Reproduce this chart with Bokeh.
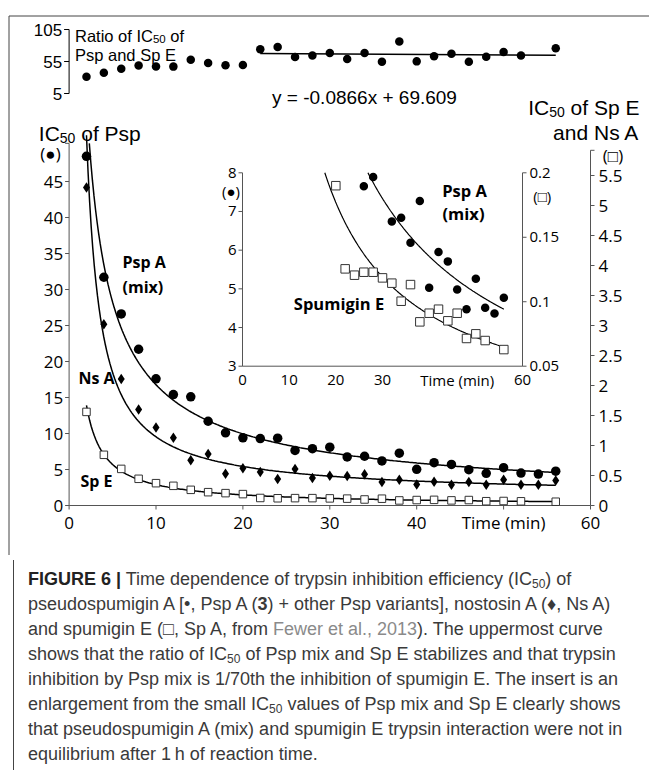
import numpy as np
from bokeh.plotting import figure
from bokeh.models import Range1d, Div
from bokeh.layouts import column
from bokeh.core.properties import value
from bokeh.embed import file_html
from bokeh.resources import INLINE

# ---------------- data ----------------
time_psp = [2, 4, 6, 8, 10, 12, 14, 16, 18, 20, 22, 24, 26, 28, 30, 32, 34, 36, 38, 40, 42, 44, 46, 48, 50, 52, 54, 56]
ic50_psp = [48.5, 31.7, 26.6, 21.7, 17.6, 15.4, 15.1, 11.7, 10.1, 9.4, 9.3, 9.35, 7.65, 7.89, 8.1, 6.74, 6.84, 6.19,
            7.27, 5.03, 5.95, 5.71, 4.98, 4.47, 5.26, 4.51, 4.36, 4.77]
time_nsa = [2, 4, 6, 8, 10, 12, 14, 16, 18, 20, 22, 24, 26, 28, 30, 32, 34, 36, 38, 40, 42, 44, 46, 48, 50, 52, 54, 56]
ic50_nsa = [5.3, 3.02, 2.11, 1.6, 1.3, 1.13, 0.755, 0.86, 0.53, 0.62, 0.56, 0.44, 0.61, 0.46, 0.495, 0.49, 0.52,
            0.39, 0.43, 0.35, 0.395, 0.345, 0.39, 0.345, 0.43, 0.345, 0.345, 0.415]
time_spe = [2, 4, 6, 8, 10, 12, 14, 16, 18, 20, 22, 24, 26, 28, 30, 32, 34, 36, 38, 40, 42, 44, 46, 48, 50, 52, 56]
ic50_spe = [1.56, 0.845, 0.61, 0.445, 0.372, 0.328, 0.261, 0.222, 0.206, 0.19, 0.1255, 0.1206, 0.1229, 0.1229,
            0.1185, 0.1144, 0.1004, 0.1133, 0.0844, 0.0911, 0.0942, 0.0852, 0.0911, 0.0715, 0.0751, 0.0699, 0.0629]
time_ratio = [2, 4, 6, 8, 10, 12, 14, 16, 18, 20, 22, 24, 26, 28, 30, 32, 34, 36, 38, 40, 42, 44, 46, 48, 50, 52, 56]
ratio_psp_spe = [31.1, 37.5, 43.6, 48.8, 47.3, 47.0, 57.9, 52.7, 49.0, 49.5, 74.1, 77.5, 62.2, 64.2, 68.4, 58.9,
                 68.1, 54.6, 86.1, 55.2, 63.2, 67.0, 54.7, 62.5, 70.0, 64.5, 75.8]
ratio_fit_from = 22
inset_fit_from = 20

main_x_ticks = [0, 10, 20, 30, 40, 50, 60]
main_x_labels = ["0", "10", "20", "30", "40", "Time (min)", "60"]
main_left_ticks = [0, 5, 10, 15, 20, 25, 30, 35, 40, 45]
main_right_ticks = [0, 0.5, 1, 1.5, 2, 2.5, 3, 3.5, 4, 4.5, 5, 5.5]
main_right_labels = ["0", "0.5", "1", "1.5", "2", "2.5", "3", "3.5", "4", "4.5", "5", "5.5"]
inset_x_ticks = [0, 10, 20, 30, 60]
inset_left_ticks = [3, 4, 5, 6, 7, 8]
inset_right_ticks = [0.05, 0.1, 0.15, 0.2]
inset_right_labels = ["0.05", "0.1", "0.15", "0.2"]
ratio_ticks = [5, 55, 105]

# ---------------- canvas geometry (page pixels) ----------------
FL, FT, FW, FH = 0, 0, 649, 555
FR, FB = FL + FW, FT + FH


def xr_(p0, v0, p1, v1):
    k = (v1 - v0) / (p1 - p0)
    return Range1d(start=v0 + (FL - p0) * k, end=v0 + (FR - p0) * k)


def yr_(p0, v0, p1, v1):
    k = (v1 - v0) / (p1 - p0)
    return Range1d(start=v0 + (FB - p0) * k, end=v0 + (FT - p0) * k)


p = figure(width=FW, height=FH, x_range=xr_(68.6, 0, 590, 60), y_range=yr_(505, 0, 181, 45),
           x_axis_type=None, y_axis_type=None, output_backend="svg", toolbar_location=None,
           min_border=0, outline_line_color=None)
p.background_fill_color = "white"
p.border_fill_color = "white"
p.extra_x_ranges = {"ix": xr_(242, 0, 522, 60), "px": Range1d(FL, FR)}
p.extra_y_ranges = {"r": yr_(505, 0, 175, 5.5), "ratio": yr_(93, 5, 29, 105),
                    "iyl": yr_(365.7, 3, 172.3, 8), "iyr": yr_(365.7, 0.05, 172.3, 0.2),
                    "py": Range1d(FB, FT)}

AXC = "#555555"


def seg(x0, y0, x1, y1, xn="default", yn="default", color=AXC, w=1):
    p.segment(x0=[x0], y0=[y0], x1=[x1], y1=[y1], line_color=color, line_width=w,
              x_range_name=xn, y_range_name=yn)


def ticks(xs, ys, angle, xn="default", yn="default", length=4, color=AXC):
    p.ray(x=xs, y=ys, length=length, length_units="screen", angle=angle, line_color=color,
          line_width=1, x_range_name=xn, y_range_name=yn)


def labels(xs, ys, texts, xn="default", yn="default", align="left", baseline="middle", xo=0, yo=0,
           size="17px", font="Open Sans", style="normal", color="black"):
    p.text(x=xs, y=ys, text=texts, text_font=value(font), text_font_size=size, text_font_style=style,
           text_align=align, text_baseline=baseline, text_color=color, x_offset=xo, y_offset=yo,
           x_range_name=xn, y_range_name=yn)


def lbl(X, Y, s, **k):
    labels([X], [Y], [s], xn="px", yn="py", **k)


ARIAL = {' ': 278, 'I': 278, 'C': 722, '5': 556, '0': 556, 'o': 556, 'f': 278, 'P': 667, 's': 500,
         'p': 556, 'S': 667, 'E': 667, 'a': 556, 'n': 556, 'd': 556, 'N': 722, 'A': 667, 'R': 722,
         't': 278, 'i': 222}


def aw(s, size):
    return sum(ARIAL[c] for c in s) * size / 1000.0


def rich(X, Yb, pre, sub, post, size, subsize, align="left", color="black"):
    total = aw(pre, size) + aw(sub, subsize) + aw(post, size)
    x0 = X if align == "left" else X - total
    f = "Liberation Sans"
    lbl(x0, Yb, pre, baseline="alphabetic", size=f"{size}px", font=f, color=color)
    x1 = x0 + aw(pre, size)
    lbl(x1, Yb + 0.2 * size, sub, baseline="alphabetic", size=f"{subsize}px", font=f, color=color)
    x2 = x1 + aw(sub, subsize)
    lead = len(post) - len(post.lstrip())
    x2 += aw(post[:lead], size)
    lbl(x2, Yb, post.lstrip(), baseline="alphabetic", size=f"{size}px", font=f, color=color)


# ---------------- frame lines of the figure box ----------------
seg(8.5, 15.5, FR, 15.5, xn="px", yn="py", color="#444444")
seg(8.5, 15.5, 8.5, FB, xn="px", yn="py", color="#444444")

# ---------------- top panel: ratio ----------------
seg(0, 5, 0, 105, yn="ratio", color="black")
ticks([0] * len(ratio_ticks), ratio_ticks, np.pi, yn="ratio", length=5, color="black")
labels([0] * len(ratio_ticks), ratio_ticks, [str(v) for v in ratio_ticks], yn="ratio", align="right",
       xo=-7, size="17px", font="Liberation Sans")
p.scatter(time_ratio, ratio_psp_spe, y_range_name="ratio", marker="circle", size=8.5,
          fill_color="black", line_color=None)
tr = np.array(time_ratio, float)
rr = np.array(ratio_psp_spe, float)
mk = tr >= ratio_fit_from
slope, icpt = np.polyfit(tr[mk], rr[mk], 1)
tl = np.array([tr[mk].min(), tr[mk].max()])
p.line(tl, slope * tl + icpt, y_range_name="ratio", line_color="black", line_width=1.5)
rich(74.5, 35, "Ratio of IC", "50", " of", 16.5, 11.5)
lbl(74.5, 54, "Psp and Sp E", baseline="alphabetic", size="16.5px", font="Liberation Sans")
lbl(364, 97, "y = -0.0866x + 69.609", align="center", size="19px", font="Liberation Sans")

# ---------------- main panel axes ----------------
seg(0, 0, 0, 50.3)
ticks([0] * (len(main_left_ticks) + 1), main_left_ticks + [50.3], np.pi)
labels([0] * len(main_left_ticks), main_left_ticks, [str(v) for v in main_left_ticks], align="right", xo=-6)
seg(0, 0, 60, 0)
ticks(main_x_ticks, [0] * len(main_x_ticks), -np.pi / 2)
labels(main_x_ticks, [0] * len(main_x_ticks), main_x_labels, align="center", yo=17)
seg(60, 0, 60, 5.92, yn="r")
ticks([60] * (len(main_right_ticks) + 1), main_right_ticks + [5.92], 0, yn="r")
labels([60] * len(main_right_ticks), main_right_ticks, main_right_labels, yn="r", xo=8)

rich(38.3, 133, "IC", "50", " of Psp", 21, 14)
rich(639, 107, "IC", "50", " of Sp E", 21, 14, align="right")
lbl(639, 132, "and Ns A", align="right", baseline="alphabetic", size="21px", font="Liberation Sans")
lbl(50, 153, "(\u25cf)", align="center", size="17px")
lbl(612.5, 155, "(\u25a1)", align="center", size="17px")

# ---------------- main panel data ----------------
tp = np.array(time_psp, float)
yp = np.array(ic50_psp, float)
tn = np.array(time_nsa, float)
yn_ = np.array(ic50_nsa, float)
ts = np.array(time_spe, float)
ys = np.array(ic50_spe, float)


def powfit(t, y):
    b, c = np.polyfit(np.log(t), np.log(y), 1)
    return np.exp(c), b


a_p, b_p = powfit(tp, yp)
t_top = max(tp.min(), (50.3 / a_p) ** (1 / b_p))
tt = np.linspace(t_top, tp.max(), 300)
p.line(tt, a_p * tt ** b_p, line_color="black", line_width=1.5)

cn = np.polyfit(np.log(tn), np.log(yn_), 2)
tt = np.linspace(tn.min(), tn.max(), 300)
p.line(tt, np.exp(np.polyval(cn, np.log(tt))), y_range_name="r", line_color="black", line_width=1.5)

a_s, b_s = powfit(ts, ys)
tt = np.linspace(ts.min(), ts.max(), 300)
p.line(tt, a_s * tt ** b_s, y_range_name="r", line_color="black", line_width=1.5)

p.scatter(tp, yp, marker="circle", size=9.5, fill_color="black", line_color=None)
p.scatter(tn, yn_, y_range_name="r", marker="diamond", size=10.5, fill_color="black", line_color=None)
p.scatter(ts, ys, y_range_name="r", marker="square", size=7.5, fill_color="white", line_color="#333333",
          line_width=1)

lbl(122, 261.7, "Psp A", size="16px", style="bold")
lbl(122, 286.7, "(mix)", size="16px", style="bold")
lbl(78, 377.3, "Ns A", size="16px", style="bold")
lbl(80, 480.7, "Sp E", size="16px", style="bold")

# ---------------- inset ----------------
seg(0, 3, 0, 8, xn="ix", yn="iyl")
ticks([0] * len(inset_left_ticks), inset_left_ticks, np.pi, xn="ix", yn="iyl")
labels([0] * len(inset_left_ticks), inset_left_ticks, [str(v) for v in inset_left_ticks], xn="ix", yn="iyl",
       align="right", xo=-6, size="15px")
seg(0, 3, 60, 3, xn="ix", yn="iyl")
labels(inset_x_ticks, [3] * len(inset_x_ticks), [str(v) for v in inset_x_ticks], xn="ix", yn="iyl",
       align="center", yo=14, size="15px")
lbl(456.7, 379.7, "Time (min)", align="center", size="15px")
seg(60, 0.05, 60, 0.2, xn="ix", yn="iyr")
ticks([60] * len(inset_right_ticks), inset_right_ticks, 0, xn="ix", yn="iyr")
labels([60] * len(inset_right_ticks), inset_right_ticks, inset_right_labels, xn="ix", yn="iyr",
       xo=7, size="15px")
lbl(230.5, 190, "(\u25cf)", align="center", size="15px")
lbl(541.7, 195, "(\u25a1)", align="center", size="15px")

mi = tp >= inset_fit_from
a_i, b_i = powfit(tp[mi], yp[mi])
t8 = max(inset_fit_from, (8 / a_i) ** (1 / b_i))
tt = np.linspace(t8, tp.max(), 200)
p.line(tt, a_i * tt ** b_i, x_range_name="ix", y_range_name="iyl", line_color="black", line_width=1.2)
t02 = max(ts.min(), (0.2 / a_s) ** (1 / b_s))
tt = np.linspace(t02, ts.max(), 200)
p.line(tt, a_s * tt ** b_s, x_range_name="ix", y_range_name="iyr", line_color="black", line_width=1.2)

vis_p = (tp >= inset_fit_from) & (yp <= 8)
p.scatter(tp[vis_p], yp[vis_p], x_range_name="ix", y_range_name="iyl", marker="circle", size=8.5,
          fill_color="black", line_color=None)
vis_s = (ts >= inset_fit_from) & (ys <= 0.2)
p.scatter(ts[vis_s], ys[vis_s], x_range_name="ix", y_range_name="iyr", marker="square", size=8.5,
          fill_color="white", line_color="#333333", line_width=1)

lbl(464, 190, "Psp A", align="center", size="16.5px", style="bold")
lbl(463, 213.3, "(mix)", align="center", size="16.5px", style="bold")
lbl(293.3, 302.7, "Spumigin E", size="16.5px", style="bold")

# ---------------- caption ----------------
SUB = '<sub style="font-size:12px;line-height:0;vertical-align:-3px">50</sub>'
cap_lines = [
    '<b style="color:#222">FIGURE 6 |</b> Time dependence of trypsin inhibition efficiency (IC' + SUB + ') of',
    'pseudospumigin A [\u2022, Psp A (<b>3</b>) + other Psp variants], nostosin A (\u2666, Ns A)',
    'and spumigin E (\u25a1, Sp A, from <span style="color:#8a8a8a">Fewer et al., 2013</span>). The uppermost curve',
    'shows that the ratio of IC' + SUB + ' of Psp mix and Sp E stabilizes and that trypsin',
    'inhibition by Psp mix is 1/70th the inhibition of spumigin E. The insert is an',
    'enlargement from the small IC' + SUB + ' values of Psp mix and Sp E clearly shows',
    'that pseudospumigin A (mix) and spumigin E trypsin interaction were not in',
    'equilibrium after 1\u2009h of reaction time.',
]
cap_html = ('<div style="box-sizing:border-box;width:641px;height:215px;margin-left:8px;border-left:1px solid #444;'
            'padding:7px 0 0 14px;font-family:\'Liberation Sans\',Arial,sans-serif;font-size:18px;'
            'line-height:25px;color:#3a3a3a;white-space:nowrap;">' + '<br>'.join(cap_lines) + '</div>')
cap = Div(text=cap_html, width=649, height=215)

layout = column(p, cap)
open("out.html", "w").write(file_html(layout, INLINE))
